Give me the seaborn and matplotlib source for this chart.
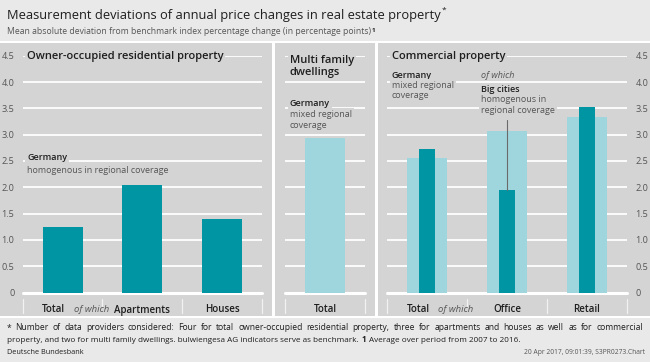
import matplotlib
matplotlib.use("Agg")
import matplotlib.pyplot as plt
import matplotlib.transforms as mtrans
from matplotlib.patches import Rectangle
import seaborn as sns

W, H = 650, 362

# ---- data ----
owner_cats = ["Total", "Apartments", "Houses"]
owner_vals = [1.24, 2.05, 1.39]
multi_cats = ["Total"]
multi_vals = [2.94]
comm_cats = ["Total", "Office", "Retail"]
comm_germany = [2.56, 3.07, 3.33]
comm_bigcities = [2.72, 1.94, 3.52]
y_ticks = [0, 0.5, 1.0, 1.5, 2.0, 2.5, 3.0, 3.5, 4.0, 4.5]
y_labels = ["0", "0.5", "1.0", "1.5", "2.0", "2.5", "3.0", "3.5", "4.0", "4.5"]

OUTER = "#e9e9e9"
PANEL = "#d4d4d4"
TEAL = "#0095a3"
LIGHT = "#9fd6dd"
DARK_TXT = "#1e1e1e"
GREY_TXT = "#555555"

sns.set_theme(style="white")
plt.rcParams["font.family"] = ["Open Sans", "DejaVu Sans"]

fig = plt.figure(figsize=(6.5, 3.62), dpi=100, facecolor=OUTER)
renderer = fig.canvas.get_renderer()


def fx(x):
    return x / W


def fy(y):
    return 1 - y / H


def rect(x0, y0, x1, y1, color):
    fig.patches.append(Rectangle((fx(x0), fy(y1)), (x1 - x0) / W, (y1 - y0) / H,
                                 transform=fig.transFigure, facecolor=color,
                                 edgecolor="none", zorder=-2))


def ftext(x, y, s, **kw):
    kw.setdefault("va", "center")
    kw.setdefault("color", DARK_TXT)
    return fig.text(fx(x), fy(y), s, **kw)


def width_of(s, **kw):
    t = fig.text(0, 0, s, **kw)
    w = t.get_window_extent(renderer).width
    t.remove()
    return w


def boxed(x, y, s, **kw):
    kw.setdefault("bbox", dict(facecolor=PANEL, edgecolor="none", pad=1.2))
    return ftext(x, y, s, **kw)


# background blocks
rect(0, 41, W, 318, "white")
rect(0, 43, 272, 316, PANEL)
rect(275, 43, 375, 316, PANEL)
rect(378, 43, W, 316, PANEL)

Y0, Y45 = 292.5, 55.7
LABEL_BASE = 312.5


def make_ax(x0, x1, ncat):
    ax = fig.add_axes([fx(x0), fy(Y0), (x1 - x0) / W, (Y0 - Y45) / H])
    ax.patch.set_visible(False)
    ax.set_xlim(-0.5, ncat - 0.5)
    ax.set_ylim(0, 4.5)
    for sp in ax.spines.values():
        sp.set_visible(False)
    ax.set_axisbelow(True)
    ax.grid(axis="y", color="white", lw=1.3)
    ax.grid(axis="x", visible=False)
    ax.axhline(0, color="white", lw=2.2, zorder=0.5, clip_on=False)
    ax.set_yticks(y_ticks)
    ax.tick_params(length=0)
    return ax


def finish(ax, cats, labels_side):
    ax.set_xlim(-0.5, len(cats) - 0.5)
    ax.set_ylim(0, 4.5)
    ax.set_xticks([])
    ax.set_xlabel("")
    ax.set_ylabel("")
    if labels_side == "left":
        ax.set_yticks(y_ticks, y_labels)
        ax.tick_params(axis="y", labelsize=6.6, labelcolor=GREY_TXT, pad=6)
    elif labels_side == "right":
        ax.yaxis.tick_right()
        ax.set_yticks(y_ticks, y_labels)
        ax.tick_params(axis="y", labelsize=6.6, labelcolor=GREY_TXT, pad=6,
                       length=0)
    else:
        ax.set_yticks(y_ticks, [""] * len(y_ticks))
    # category labels and separators below the zero line
    trans = mtrans.blended_transform_factory(ax.transData, fig.transFigure)
    lkw = dict(ha="center", va="baseline", fontsize=7.0, fontweight="semibold",
               color=DARK_TXT)
    for i, c in enumerate(cats):
        if c == "Total" and len(cats) > 1:
            t = mtrans.offset_copy(trans, fig, x=-9, y=0, units="dots")
            ax.text(i, fy(LABEL_BASE), c, transform=t, **lkw)
            t2 = mtrans.offset_copy(trans, fig, x=29, y=0, units="dots")
            ax.text(i, fy(LABEL_BASE), "of which", transform=t2, ha="center",
                    va="baseline", fontsize=6.8, style="italic", color=GREY_TXT)
        else:
            ax.text(i, fy(LABEL_BASE), c, transform=trans, **lkw)
    for k in range(len(cats) + 1):
        xb = k - 0.5
        bottom = 305.5 if (k == 1 and len(cats) > 1) else 313
        ax.plot([xb, xb], [fy(299), fy(bottom)], transform=trans, color="#f2f2f2",
                lw=0.9, clip_on=False)


# ---- panel 1: owner-occupied ----
ax1 = make_ax(22.7, 262, len(owner_cats))
sns.barplot(x=owner_cats, y=owner_vals, order=owner_cats, color=TEAL,
            saturation=1, width=0.5, linewidth=0, ax=ax1)
finish(ax1, owner_cats, "left")

# ---- panel 2: multi family ----
ax2 = make_ax(285, 365, len(multi_cats))
sns.barplot(x=multi_cats, y=multi_vals, order=multi_cats, color=LIGHT,
            saturation=1, width=0.5, linewidth=0, ax=ax2)
finish(ax2, multi_cats, None)

# ---- panel 3: commercial ----
ax3 = make_ax(387, 627, len(comm_cats))
sns.barplot(x=comm_cats, y=comm_germany, order=comm_cats, color=LIGHT,
            saturation=1, width=0.5, linewidth=0, ax=ax3)
sns.barplot(x=comm_cats, y=comm_bigcities, order=comm_cats, color=TEAL,
            saturation=1, width=0.19, linewidth=0, ax=ax3)
finish(ax3, comm_cats, "right")

# leader line to Office big-cities bar
office_i = comm_cats.index("Office")
y_top = 4.5 * (Y0 - 120) / (Y0 - Y45)
ax3.plot([office_i, office_i], [y_top, comm_bigcities[office_i]],
         color="#6a6a6a", lw=0.8, zorder=3)

# ---- header ----
title = "Measurement deviations of annual price changes in real estate property"
tkw = dict(fontsize=9.3, color=DARK_TXT)
ftext(7, 15, title, **tkw)
ftext(7 + width_of(title, **tkw) + 1, 10, "*", fontsize=6, color=DARK_TXT)
sub = "Mean absolute deviation from benchmark index percentage change (in percentage points)"
skw = dict(fontsize=6.2, color=GREY_TXT)
ftext(7, 32, sub, **skw)
ftext(7 + width_of(sub, **skw) + 1, 30, "1", fontsize=4.5, color=DARK_TXT,
      fontweight="bold")

# ---- panel titles & annotations ----
ptkw = dict(fontsize=8.0, fontweight="semibold")
boxed(27, 57, "Owner-occupied residential property", **ptkw)
boxed(290, 60, "Multi family", **ptkw)
boxed(290, 72, "dwellings", **ptkw)
boxed(392, 57, "Commercial property", **ptkw)

bkw = dict(fontsize=6.5, fontweight="semibold")
gkw = dict(fontsize=6.5, color=GREY_TXT)
boxed(27, 158, "Germany", **bkw)
boxed(27, 171, "homogenous in regional coverage", **gkw)

boxed(290, 103, "Germany", **bkw)
boxed(290, 114.5, "mixed regional", **gkw)
boxed(290, 125.5, "coverage", **gkw)

boxed(392, 75, "Germany", **bkw)
boxed(392, 85.5, "mixed regional", **gkw)
boxed(392, 96, "coverage", **gkw)
boxed(481, 75, "of which", style="italic", **gkw)
boxed(481, 89, "Big cities", **bkw)
boxed(481, 100, "homogenous in", **gkw)
boxed(481, 110.5, "regional coverage", **gkw)

# ---- footnotes ----
f1kw = dict(fontsize=6.15, color=DARK_TXT)
line1 = ("* Number of data providers considered: Four for total owner-occupied "
         "residential property, three for apartments and houses as well as for commercial")
words = line1.split()
ws = [width_of(w, **f1kw) for w in words]
gap = (643 - 7 - sum(ws)) / (len(words) - 1)
x = 7
for w, wd in zip(words, ws):
    ftext(x, 328, w, **f1kw)
    x += wd + gap

fkw = dict(fontsize=5.85, color=DARK_TXT)
space = width_of("a a", **fkw) - width_of("aa", **fkw) + 0.8
runs = [("property, and two for multi family dwellings. bulwiengesa AG indicators "
         "serve as benchmark.", "normal"), ("1", "bold"),
        ("Average over period from 2007 to 2016.", "normal")]
x = 7
for s, wt in runs:
    ftext(x, 340, s, fontweight=wt, **fkw)
    x += width_of(s, fontweight=wt, **fkw) + space

ftext(7, 353, "Deutsche Bundesbank", fontsize=5.2, color=DARK_TXT)
ftext(645, 353, "20 Apr 2017, 09:01:39, S3PR0273.Chart", ha="right",
      fontsize=4.8, color=GREY_TXT)

fig.savefig("out.png", dpi=100, facecolor=OUTER)
